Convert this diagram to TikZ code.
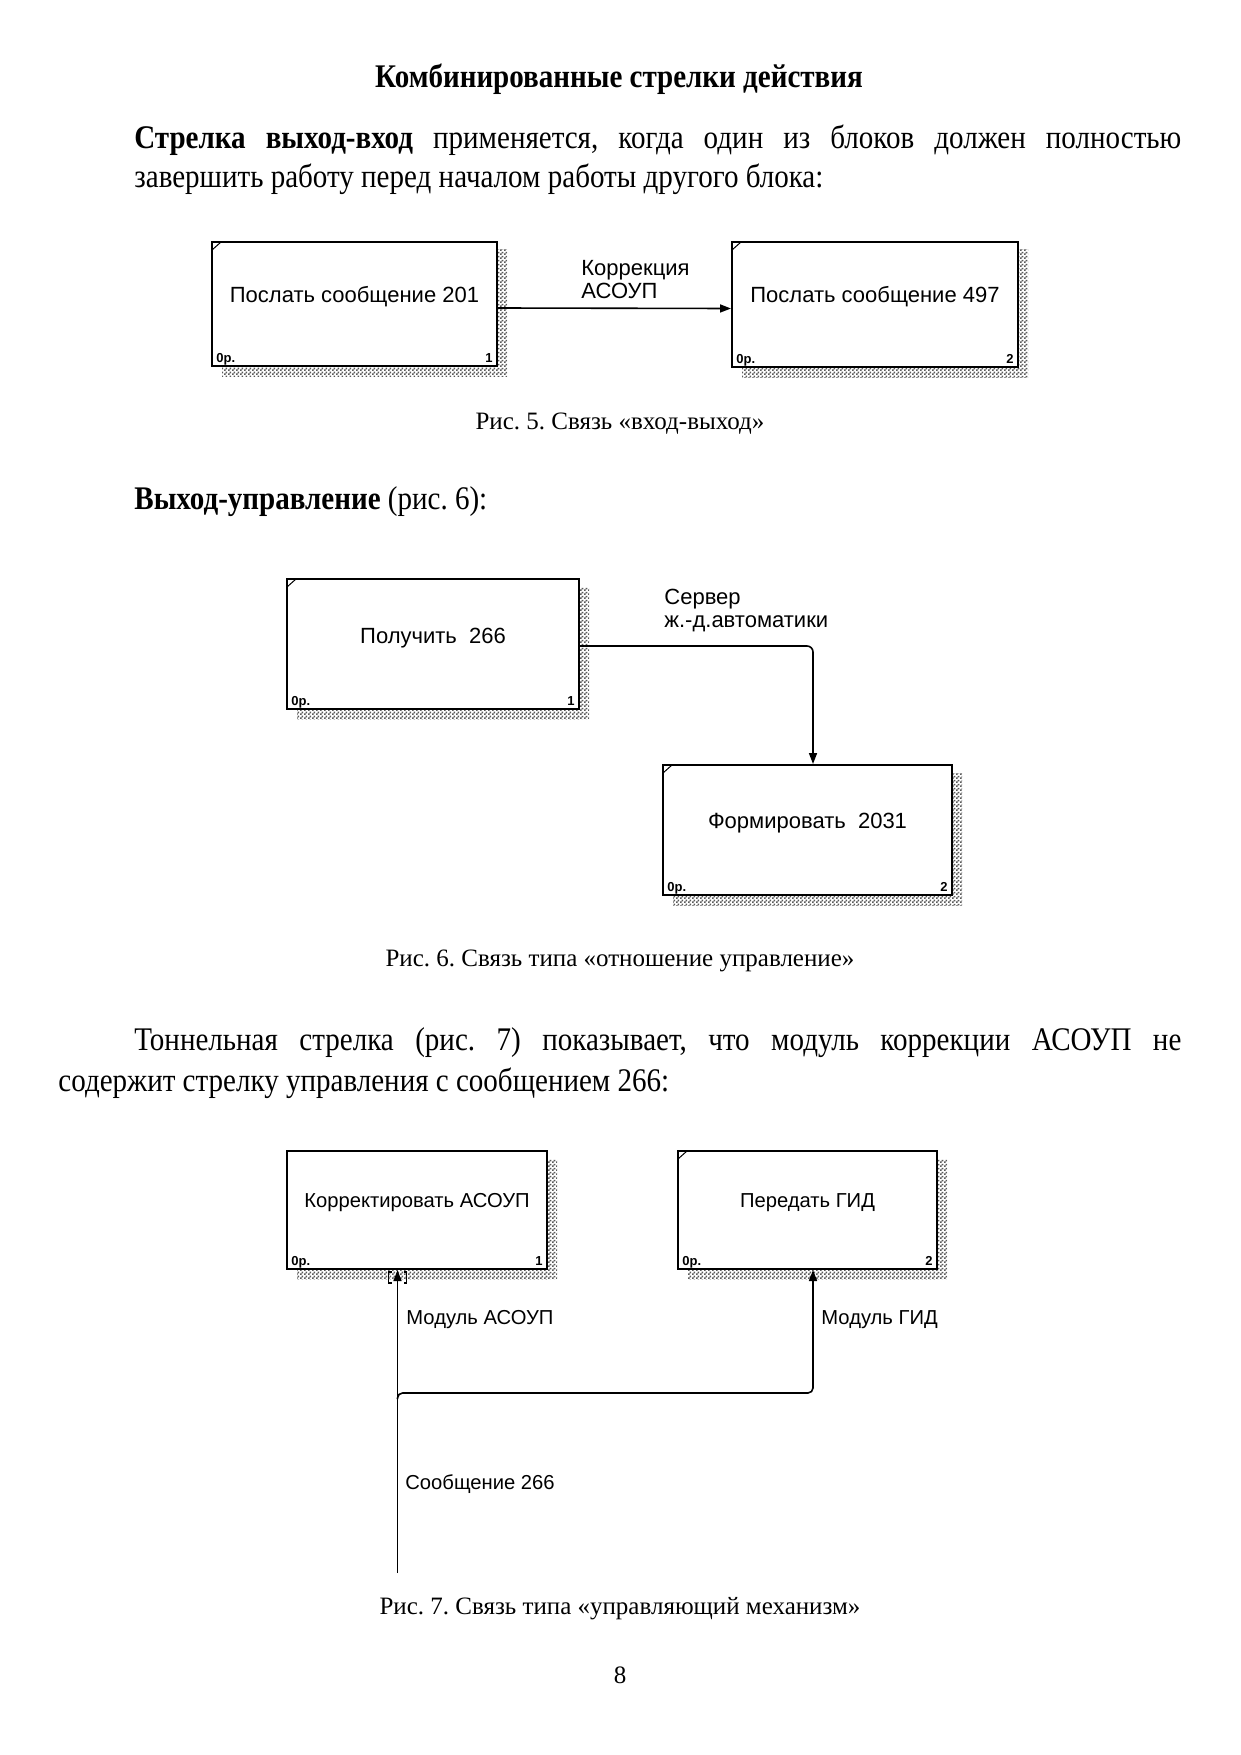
\documentclass[tikz,border=0pt]{standalone}
\usepackage{fontspec}
\setmainfont{Liberation Serif}
\newfontfamily\bodyfont[FakeStretch=0.88]{Liberation Serif}
\newfontfamily\diafont{Liberation Sans}
\usetikzlibrary{arrows.meta,patterns}
\frenchspacing

\pgfdeclarepatternformonly{finechecker}{\pgfpointorigin}{\pgfpoint{2pt}{2pt}}{\pgfpoint{2pt}{2pt}}{%
  \pgfpathrectangle{\pgfpointorigin}{\pgfpoint{1pt}{1pt}}%
  \pgfpathrectangle{\pgfpoint{1pt}{1pt}}{\pgfpoint{1pt}{1pt}}%
  \pgfusepath{fill}}

\def\dfs{11}
\tikzset{
 idefbox/.style={draw, line width=1pt, fill=white, inner sep=0pt},
 boxtext/.style={font=\diafont\fontsize{\dfs}{13}\selectfont, inner sep=0pt},
 cornerlbl/.style={font=\diafont\bfseries\fontsize{6.5}{7}\selectfont, inner sep=0pt},
 shadowfill/.style={pattern=finechecker, pattern color=black!65},
 conn/.style={line width=0.8pt, -{Triangle[length=5.5pt,width=4pt]}},
 lbl/.style={font=\diafont\fontsize{\dfs}{11.5}\selectfont, inner sep=0pt, anchor=west, align=left},
 body/.style={font=\bodyfont\fontsize{16.5}{20}\selectfont, inner sep=0pt, anchor=base west},
 capt/.style={font=\fontsize{12.5}{14}\selectfont, inner sep=0pt, anchor=base},
 bracket/.style={line width=0.8pt},
}

% name x1 y1 x2 y2 text textY number diag
\newcommand\ibox[9]{%
  \fill[shadowfill] (#4,#3+8) rectangle (#4+10,#5+10);
  \fill[shadowfill] (#2+10,#5) rectangle (#4,#5+10);
  \node[idefbox, minimum width={(#4-#2)*0.5pt}, minimum height={(#5-#3)*0.5pt}] (#1) at ({(#2+#4)/2},{(#3+#5)/2}) {};
  \node[boxtext] (#1t) at ({(#2+#4)/2},#7) {#6};
  \node[cornerlbl, anchor=base west] (#1o) at (#2+4,#5-4) {0р.};
  \node[cornerlbl, anchor=base east] (#1n) at (#4-4,#5-4) {#8};
  \ifnum#9=1 \draw[line width=0.5pt] (#2,#3+8) -- (#2+9,#3);\fi
}

\begin{document}
\begin{tikzpicture}[x=0.5pt,y=-0.5pt]
\useasboundingbox[fill=white] (0,0) rectangle (1241,1755);

% texts
\node[body, anchor=base] (title) at (619,88) {\bfseries Комбинированные стрелки действия};
\node[body] (p1) at (134,149) {\makebox[523.5pt][s]{\textbf{Стрелка выход-вход} применяется, когда один из блоков должен полностью}};
\node[body] (p2) at (134,188) {завершить работу перед началом работы другого блока:};
\node[capt] (cap5) at (620,429) {Рис. 5. Связь «вход-выход»};
\node[body] (h6) at (134,509) {\textbf{Выход-управление} (рис. 6):};
\node[capt] (cap6) at (620,966) {Рис. 6. Связь типа «отношение управление»};
\node[body] (p3) at (134,1050) {\makebox[523.5pt][s]{Тоннельная стрелка (рис. 7) показывает, что модуль коррекции АСОУП не}};
\node[body] (p4) at (58,1091) {содержит стрелку управления с сообщением 266:};
\node[capt] (cap7) at (620,1614) {Рис. 7. Связь типа «управляющий механизм»};
\node[capt] (pg) at (620,1683) {8};

% Fig 5
\ibox{a1}{212}{242}{497}{366}{Послать сообщение 201}{297}{1}{1}
\ibox{a2}{732}{242}{1018}{367}{Послать сообщение 497}{297}{2}{1}
\draw[conn] ([yshift=-2pt]a1.east) -- ([yshift=-2pt]a2.west);
\node[lbl] (la) at (581,280) {Коррекция\\АСОУП};

% Fig 6
\ibox{b1}{287}{579}{579}{709}{Получить\ \ 266}{638}{1}{1}
\ibox{b2}{663}{765}{952}{895}{Формировать\ \ 2031}{823}{2}{1}
\draw[conn, rounded corners=3pt] ([yshift=-1pt]b1.east) -| ([xshift=2.75pt]b2.north);
\node[lbl] (lb) at (664,610.5) {Сервер\\ж.-д.автоматики};

% Fig 7
\def\dfs{10.1}
\ibox{c1}{287}{1151}{547}{1269}{Корректировать АСОУП}{1203}{1}{0}
\ibox{c2}{678}{1151}{937}{1269}{Передать ГИД}{1203}{2}{1}
\coordinate (src) at (397.5,1573);
\coordinate (jn) at (397.5,1393);
\draw[conn] (src) -- ([xshift=-9.75pt]c1.south);
\draw[conn, rounded corners=2.5pt] ([yshift=-3pt]jn) -- (jn) -| ([xshift=2.75pt]c2.south);
\draw[bracket] (391.5,1272) -- (388.5,1272) -- (388.5,1283) -- (391.5,1283);
\draw[bracket] (403.5,1272) -- (406.5,1272) -- (406.5,1283) -- (403.5,1283);
\node[lbl] (lc1) at (406,1320) {Модуль АСОУП};
\node[lbl] (lc2) at (821,1320) {Модуль ГИД};
\node[lbl] (lc3) at (405,1484) {Сообщение 266};
\end{tikzpicture}
\end{document}
